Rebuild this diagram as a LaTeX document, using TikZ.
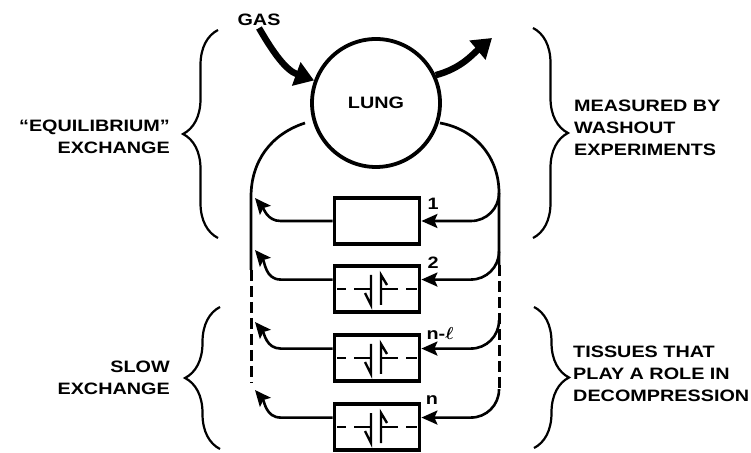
\documentclass[tikz,border=0pt]{standalone}
\usepackage{fontspec}
\newfontfamily\labfont{Liberation Sans}[FakeStretch=1.2]
\usetikzlibrary{arrows.meta, decorations.pathreplacing}

\begin{document}
\begin{tikzpicture}[x=1pt, y=1pt, >={Stealth[length=16pt,width=14pt,inset=3pt]},
  txt/.style={font=\labfont\bfseries\fontsize{16.5}{22}\selectfont, inner sep=2pt},
  tissue/.style={draw, line width=3.8pt, minimum width=85pt, minimum height=46pt, inner sep=0pt},
  flow/.style={->, line width=2.6pt},
  wall/.style={line width=2.7pt},
  brokenwall/.style={line width=3pt, dash pattern=on 11pt off 5pt},
  bigflow/.style={-{Triangle[length=19pt,width=24pt]}, line width=6.5pt},
  grp/.style={line width=2.2pt, decorate, decoration={brace, amplitude=35pt}},
  valvesym/.pic={
    \draw[line width=2.4pt] (-40,0) -- (-31,0) (-23,0) -- (-6,0) (4,0) -- (21,0) (29,0) -- (40,0);
    \draw[line width=2.4pt] (-12,-4) -- (-6,-16) -- (-6,14);
    \draw[line width=2.4pt] (10,4) -- (4,14) -- (4,-16);
  }]
  \useasboundingbox (0,0) rectangle (751,452);

  % Lung, gas in and out
  \node[txt, circle, draw, line width=3.8pt, minimum size=128pt] (lung) at (376,349) {LUNG};
  \node[txt] (gas) at (259,432) {GAS};
  \coordinate (gout) at (492,414);
  \draw[bigflow] (gas.south) to[out=-60,in=160] (lung.160);
  \draw[bigflow] (lung.25) to[out=15,in=220] (gout);

  % Tissue compartments
  \node[tissue] (b1) at (377,231) {};
  \node[tissue] (b2) at (377,163) {};
  \node[tissue] (b3) at (377,94) {};
  \node[tissue] (b4) at (377,25) {};
  \pic at (b2.center) {valvesym};
  \pic at (b3.center) {valvesym};
  \pic at (b4.center) {valvesym};
  \node[txt] (n1) at (433,248) {1};
  \node[txt] (n2) at (433,189) {2};
  \node[txt] (n3) at (440,118) {n-{\boldmath$\ell$}};
  \node[txt] (n4) at (432,52) {n};

  % Circulation round the tissues
  \coordinate (la) at (305,329);
  \coordinate (ra) at (440,329);
  \coordinate (lt) at (251,255);
  \coordinate (lm) at (251,182);
  \coordinate (lb) at (251,69);
  \coordinate (r1) at (499,259);
  \coordinate (r2) at (499,200);
  \coordinate (rm) at (499,187);
  \coordinate (r3) at (499,130);
  \coordinate (r4) at (499,63);
  \draw[wall] (la) to[out=198,in=90] (lt) -- (lm);
  \draw[brokenwall] (lm) -- (lb);
  \draw[wall] (ra) to[out=-10,in=90] (r1) -- (rm);
  \draw[brokenwall] (rm) -- (r4);

  % Flow through each tissue
  \coordinate (l1) at (255,254);
  \coordinate (l2) at (255,202);
  \coordinate (l3) at (255,130);
  \coordinate (l4) at (255,62);
  \draw[flow, rounded corners=28pt] (r1) |- (b1.east);
  \draw[flow] (b1.west) -- ++(-52,0) to[out=180,in=-50] (l1);
  \draw[flow, rounded corners=28pt] (r2) |- (b2.12);
  \draw[flow] (b2.168) -- ++(-52,0) to[out=180,in=-50] (l2);
  \draw[flow, rounded corners=28pt] (r3) |- (b3.12);
  \draw[flow] (b3.168) -- ++(-52,0) to[out=180,in=-50] (l3);
  \draw[flow, rounded corners=28pt] (r4) |- (b4.12);
  \draw[flow] (b4.168) -- ++(-52,0) to[out=180,in=-50] (l4);

  % Groupings
  \draw[grp] (218,214) -- (218,422);
  \draw[grp] (220,3) -- (220,145);
  \draw[grp] (533,424) -- (533,214);
  \draw[grp] (534,145) -- (534,4);
  \node[txt, align=right, anchor=east] (eq) at (172,315) {“EQUILIBRIUM”\\EXCHANGE};
  \node[txt, align=right, anchor=east] (slow) at (172,74) {SLOW\\EXCHANGE};
  \node[txt, align=left, anchor=west] (wash) at (572,324) {MEASURED BY\\WASHOUT\\EXPERIMENTS};
  \node[txt, align=left, anchor=west] (deco) at (571,78) {TISSUES THAT\\PLAY A ROLE IN\\DECOMPRESSION};
\end{tikzpicture}
\end{document}
